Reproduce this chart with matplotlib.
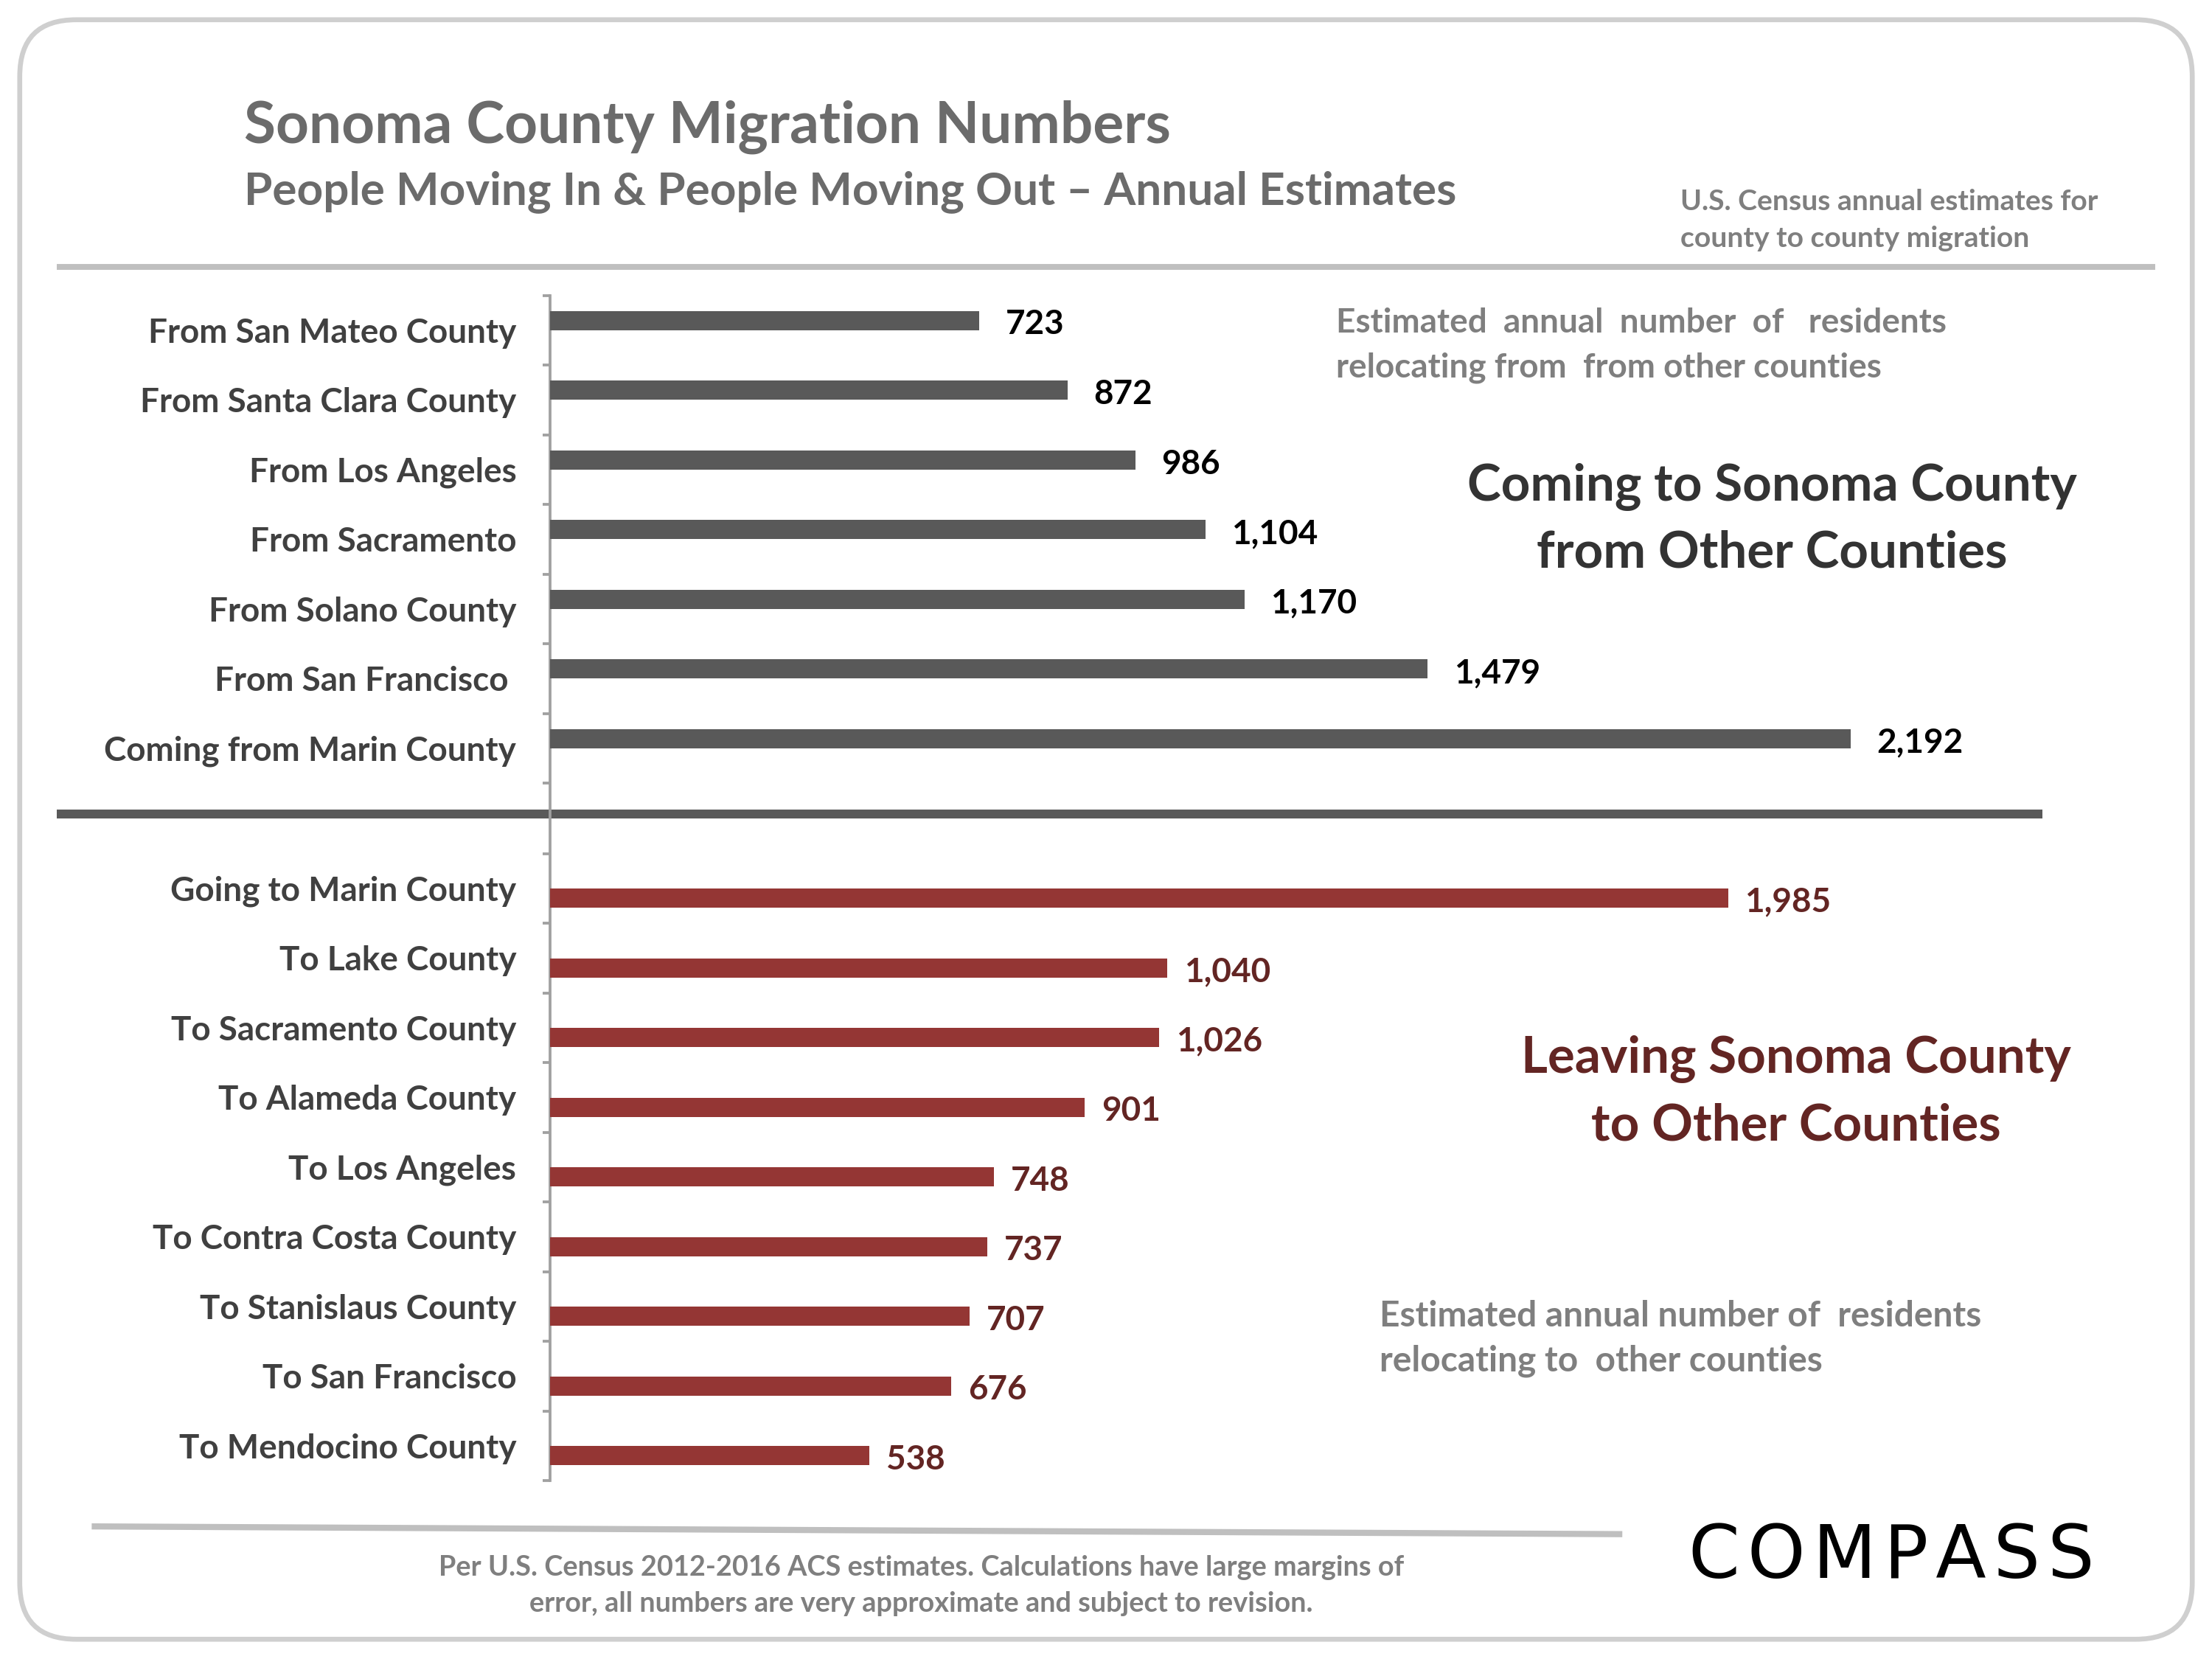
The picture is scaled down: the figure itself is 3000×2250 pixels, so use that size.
import matplotlib
matplotlib.use("Agg")
import matplotlib.pyplot as plt
from matplotlib.patches import FancyBboxPatch

plt.rcParams['font.family'] = ['Lato', 'DejaVu Sans']

# ---------------- data ----------------
in_labels = ["From San Mateo County", "From Santa Clara County", "From Los Angeles",
             "From Sacramento", "From Solano County", "From San Francisco ",
             "Coming from Marin County"]
in_values = [723, 872, 986, 1104, 1170, 1479, 2192]

out_labels = ["Going to Marin County", "To Lake County", "To Sacramento County",
              "To Alameda County", "To Los Angeles", "To Contra Costa County",
              "To Stanislaus County", "To San Francisco", "To Mendocino County"]
out_values = [1985, 1040, 1026, 901, 748, 737, 707, 676, 538]

title = "Sonoma County Migration Numbers"
subtitle = "People Moving In & People Moving Out \u2013 Annual Estimates"
source_note = ["U.S. Census annual estimates for", "county to county migration"]
in_note = ["Estimated  annual  number  of   residents", "relocating from  from other counties"]
out_note = ["Estimated annual number of  residents", "relocating to  other counties"]
in_head = ["Coming to Sonoma County", "from Other Counties"]
out_head = ["Leaving Sonoma County", "to Other Counties"]
footer = ["Per U.S. Census 2012-2016 ACS estimates. Calculations have large margins of",
          "error, all numbers are very approximate and subject to revision."]
logo = "COMPASS"

# ---------------- styles ----------------
W, H = 1568.0, 1176.0      # layout grid
GREY_BAR = "#595959"
RED_BAR = "#943634"
RED_TXT = "#632523"
LABEL_C = "#404040"
NOTE_C = "#7f7f7f"
TITLE_C = "#6b6b6b"
AXIS_C = "#a0a0a0"

fig = plt.figure(figsize=(10, 7.5), dpi=300)
fig.patch.set_facecolor("white")

# background layer in layout coordinates
bg = fig.add_axes([0, 0, 1, 1])
bg.set_xlim(0, W)
bg.set_ylim(H, 0)
bg.axis("off")

box = FancyBboxPatch((14, 14), 1540, 1148,
                     boxstyle="round,pad=0,rounding_size=40",
                     facecolor="white", edgecolor="#cfcfcf", linewidth=1.6)
bg.add_patch(box)

bg.plot([40, 1528], [189, 189], color="#bfbfbf", lw=1.9, solid_capstyle="butt")
bg.plot([40, 1448], [577, 577], color="#595959", lw=2.9, solid_capstyle="butt")
bg.plot([65, 1150], [1082, 1087.5], color="#bfbfbf", lw=2.0, solid_capstyle="butt")
bg.plot([390, 390], [209.4, 1049.6], color=AXIS_C, lw=0.9)

bg.text(173, 101, title, fontsize=18.8, fontweight="bold", color=TITLE_C, va="baseline")
bg.text(173, 145, subtitle, fontsize=14.9, fontweight="bold", color=TITLE_C, va="baseline")
for i, s in enumerate(source_note):
    bg.text(1191, 143 + 26 * i, s, fontsize=9.4, fontweight="bold", color=NOTE_C, va="center")
for i, s in enumerate(in_note):
    bg.text(947, 229 + 31.5 * i, s, fontsize=11, fontweight="bold", color=NOTE_C, va="center")
for i, s in enumerate(out_note):
    bg.text(978, 933 + 31.5 * i, s, fontsize=11.5, fontweight="bold", color=NOTE_C, va="center")
for i, s in enumerate(in_head):
    bg.text(1256, 345 + 47 * i, s, fontsize=16.6, fontweight="bold", color="#333333",
            va="center", ha="center")
for i, s in enumerate(out_head):
    bg.text(1273, 751 + 47 * i, s, fontsize=16.6, fontweight="bold", color=RED_TXT,
            va="center", ha="center")
for i, s in enumerate(footer):
    bg.text(653, 1111 + 26 * i, s, fontsize=9.1, fontweight="bold", color=NOTE_C,
            va="center", ha="center")
bg.text(1341, 1104, "\u200a".join(logo), fontsize=24, color="black", va="center",
        ha="center", family=["DejaVu Sans"])

# ---------------- bar charts ----------------
SCALE = 0.4206            # layout px per person
AX_L, AX_R = 390.0, 1528.0
XMAX = (AX_R - AX_L) / SCALE
BAR_H = 0.275
OFF = 0.14


def make_axes(top, bottom):
    return fig.add_axes([AX_L / W, 1 - bottom / H, (AX_R - AX_L) / W, (bottom - top) / H])


def style(ax, labels, values, color, offset, lab_color, lab_dx):
    n = len(labels)
    pos = list(range(n))
    ax.barh([p + offset for p in pos], values, height=BAR_H, color=color, zorder=3)
    ax.set_xlim(0, XMAX)
    ax.set_ylim(n - 0.5, -0.5)
    for s in ax.spines.values():
        s.set_visible(False)
    ax.set_xticks([])
    ax.set_yticks(pos)
    ax.set_yticklabels(labels, fontsize=11, fontweight="bold", color=LABEL_C)
    ax.set_yticks([p - 0.5 for p in range(n + 1)], minor=True)
    ax.tick_params(axis="y", which="major", length=0, pad=11)
    ax.tick_params(axis="y", which="minor", length=2.4, width=0.9, color=AXIS_C)
    ax.patch.set_alpha(0)
    for p, v in zip(pos, values):
        ax.annotate(f"{v:,}", xy=(v, p + offset), xytext=(lab_dx, -1.4),
                    textcoords="offset points", va="center", ha="left",
                    fontsize=11, fontweight="bold", color=lab_color)


ax_in = make_axes(209.4, 555.2)
style(ax_in, in_labels, in_values, GREY_BAR, -OFF, "black", 8.5)

ax_out = make_axes(605.0, 1049.6)
style(ax_out, out_labels, out_values, RED_BAR, OFF, RED_TXT, 5.5)

fig.savefig("out.png", dpi=300, facecolor="white")
